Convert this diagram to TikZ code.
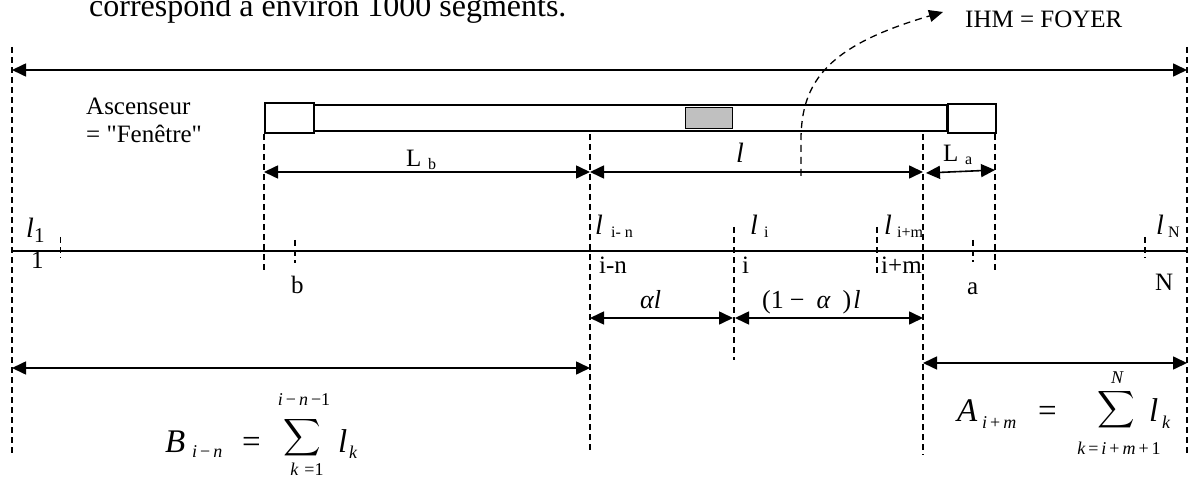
\documentclass[tikz,border=0pt]{standalone}
\usepackage{graphicx}
\usepackage{fontspec}
\setmainfont{Liberation Serif}
\newfontfamily\plainserif{Liberation Serif}
\usetikzlibrary{arrows.meta}
\newcommand\myfs[1]{\fontsize{#1}{#1}\selectfont}
\definecolor{barGray}{RGB}{192,192,192}
\begin{document}
\begin{tikzpicture}[x=1pt,y=-1pt,
  txt/.style={inner sep=0pt, anchor=base west},
  lab/.style={txt, font=\myfs{25}},
  subl/.style={txt, font=\myfs{16}},
  ell/.style={txt, font=\myfs{28}\itshape},
  mth/.style={txt, font=\myfs{33}\itshape},
  mthsub/.style={txt, font=\myfs{18}\itshape},
  lim/.style={inner sep=0pt, anchor=base, font=\myfs{18}\itshape},
  bigsum/.style={inner sep=0pt},
  guide/.style={line width=1.3pt, dash pattern=on 6pt off 4pt},
  dim/.style={line width=1.6pt, {Triangle[length=14pt,width=13pt]}-{Triangle[length=14pt,width=13pt]}},
  boxline/.style={draw, line width=1.6pt}]
\useasboundingbox (0,0) rectangle (1190,478);

% caption text (cut at top, as in the reference)
\node[txt, font=\myfs{32}] (caption) at (89,17) {correspond à environ 1000 segments.};
\node[lab] (ihm) at (965,28) {IHM = FOYER};

% outer guides
\coordinate (gLt) at (12,47);   \coordinate (gLb) at (12,455);
\coordinate (gRt) at (1187,47); \coordinate (gRb) at (1187,455);
\draw[guide] (gLt) -- (gLb);
\draw[guide] (gRt) -- (gRb);
\coordinate (topL) at (12,70); \coordinate (topR) at (1187,70);
\draw[dim] (topL) -- (topR);

% Ascenseur label
\node[lab] (asc1) at (86,115) {Ascenseur};
\node[lab, font=\myfs{25}\plainserif] (asc2) at (86,143) {= "Fenêtre"};

% bar
\draw[boxline] (313,105) rectangle (947,131);
\node[boxline, fill=white, minimum width=49pt, minimum height=30pt, inner sep=0, anchor=north west] (boxL) at (264,102) {};
\node[boxline, fill=white, minimum width=48pt, minimum height=29pt, inner sep=0, anchor=north west] (boxR) at (947,103) {};
\node[draw, line width=1.3pt, fill=barGray, minimum width=47pt, minimum height=21pt, inner sep=0, anchor=north west] (cursor) at (685,107) {};

% vertical guides
\draw[guide] (264,134) -- (264,270);
\draw[guide] (590,134) -- (590,452);
\draw[guide] (923,134) -- (923,455);
\draw[guide] (995,134) -- (995,270);
\draw[guide] (734,227) -- (734,360);
\draw[guide] (877,227) -- (877,273);

% IHM curve
\coordinate (ihmS) at (801,176);
\coordinate (ihmT) at (943,12);
\draw[line width=1.3pt, dash pattern=on 7pt off 5pt, -{Triangle[length=14pt,width=12pt]}]
  (ihmS) -- (801,140) .. controls (801,80) and (830,45) .. (ihmT);

% dimension arrows upper
\draw[dim] (264,172) -- (590,172);
\draw[dim] (590,172) -- (923,172);
\draw[dim] (926,173) -- (995,170);
\node[lab] (Lb) at (406,167) {L};
\node[subl] (Lbs) at (428,170) {b};
\node[ell] (lmain) at (736,163) {l};
\node[lab] (La) at (943,162) {L};
\node[subl] (Las) at (965,165) {a};

% axis
\draw[line width=1.8pt] (12,251) -- (1187,251);
\draw[guide] (60.5,237) -- (60.5,258);
\draw[guide] (295,240) -- (295,263);
\draw[guide] (973,240) -- (973,262);
\draw[guide] (1145,237) -- (1145,258);

% axis labels
\node[ell] (l1) at (26,237) {l};
\node[txt, font=\myfs{21}] (l1s) at (34,243) {1};
\node[lab] (n1) at (31,268) {1};
\node[lab] (nb) at (291,293) {b};
\node[ell] (lin) at (595,235) {l};
\node[subl] (lins) at (611,238) {i- n};
\node[lab] (nin) at (599,273) {i-n};
\node[ell] (li) at (750,235) {l};
\node[subl] (lis) at (764,238) {i};
\node[lab] (ni) at (742,273) {i};
\node[ell] (lim) at (884,235) {l};
\node[subl] (lims) at (897,238) {i+m};
\node[lab] (nim) at (881,273) {i+m};
\node[lab] (na) at (967,294) {a};
\node[ell] (lN) at (1156,235) {l};
\node[subl] (lNs) at (1168,237) {N};
\node[lab] (nN) at (1155,290) {N};

% alpha arrows
\draw[dim] (590,318) -- (733,318);
\draw[dim] (735,318) -- (923,318);
\node[txt, font=\myfs{26}\itshape] (al) at (640,308) {αl};
\node[txt, font=\myfs{26}] (oneal) at (762,308) {(1\hspace{6pt}−\hspace{12pt}\textit{α}\hspace{12pt})\hspace{2pt}\textit{l}};

% lower arrows
\draw[dim] (12,368) -- (590,368);
\draw[dim] (923,363) -- (1187,363);

% B formula
\node[mth] (B) at (165,452) {B};
\node[mthsub] (Bs) at (192,457) {i\,\textup{−}\,n};
\node[txt, font=\myfs{33}] (Beq) at (242,452) {=};
\node[bigsum] (sigB) at (302,438) {\scalebox{2.6}{$\displaystyle\sum$}};
\node[lim] (Bup) at (304,405) {i\,\textup{−}\,n\,\textup{−1}};
\node[lim] (Blo) at (307,475) {k\,\,\textup{=1}};
\node[mth] (Bl) at (338,452) {l};
\node[mthsub] (Bk) at (349,458) {k};

% A formula
\node[mth] (A) at (957,421) {A};
\node[mthsub] (As) at (982,428) {i\,\textup{+}\,m};
\node[txt, font=\myfs{33}] (Aeq) at (1038,421) {=};
\node[bigsum] (sigA) at (1116,410) {\scalebox{2.6}{$\displaystyle\sum$}};
\node[lim] (Aup) at (1117,383) {N};
\node[lim] (Alo) at (1119,454) {k\,\textup{=}\,i\,\textup{+}\,m\,\textup{+}\,\textup{1}};
\node[mth] (Al) at (1149,421) {l};
\node[mthsub] (Ak) at (1162,428) {k};
\end{tikzpicture}
\end{document}
